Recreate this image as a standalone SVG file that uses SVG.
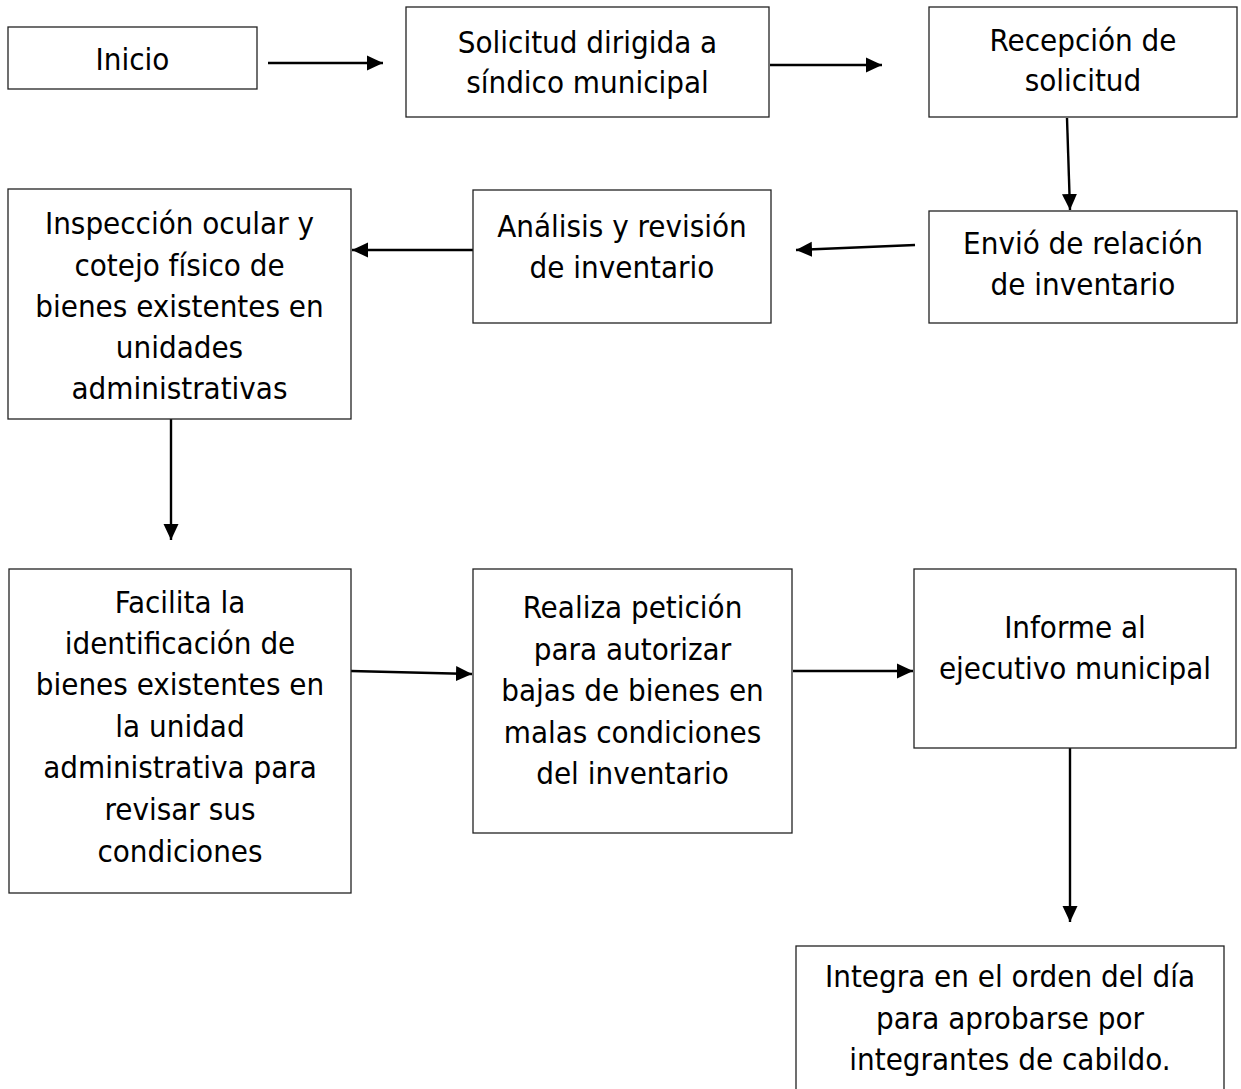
<svg xmlns="http://www.w3.org/2000/svg" width="1241" height="1089" viewBox="0 0 1241 1089">
<style>
  .box { fill: #ffffff; stroke: #222222; stroke-width: 1.3; }
  .lbl { font-family: "DejaVu Sans Condensed", "DejaVu Sans", sans-serif; font-stretch: condensed; font-size: 31px; fill: #000000; text-anchor: middle; }
  .conn { stroke: #000000; stroke-width: 2.4; fill: none; marker-end: url(#arrow); }
</style>
<defs>
  <marker id="arrow" viewBox="0 0 16 16" refX="16" refY="8" markerWidth="16" markerHeight="16" markerUnits="userSpaceOnUse" orient="auto">
    <path d="M0,0.5 L16,8 L0,15.5 z" fill="#000000"/>
  </marker>
</defs>
<rect x="0" y="0" width="1241" height="1089" fill="#ffffff"/>

<g id="connectors">
  <line class="conn" x1="268" y1="63" x2="383" y2="63"/>
  <line class="conn" x1="770" y1="65" x2="882" y2="65"/>
  <line class="conn" x1="1067" y1="118" x2="1070" y2="210"/>
  <line class="conn" x1="915" y1="245" x2="796" y2="250"/>
  <line class="conn" x1="473" y1="250" x2="352" y2="250"/>
  <line class="conn" x1="171" y1="419" x2="171" y2="540"/>
  <line class="conn" x1="351" y1="671" x2="472" y2="674"/>
  <line class="conn" x1="793" y1="671" x2="913" y2="671"/>
  <line class="conn" x1="1070" y1="748" x2="1070" y2="922"/>
</g>

<g id="inicio">
  <rect class="box" x="8" y="27" width="249" height="62"/>
  <text class="lbl" x="132.5" y="70">Inicio</text>
</g>
<g id="solicitud">
  <rect class="box" x="406" y="7" width="363" height="110"/>
  <text class="lbl" x="587.5" y="53">Solicitud dirigida a</text>
  <text class="lbl" x="587.5" y="93">síndico municipal</text>
</g>
<g id="recepcion">
  <rect class="box" x="929" y="7" width="308" height="110"/>
  <text class="lbl" x="1083" y="51">Recepción de</text>
  <text class="lbl" x="1083" y="91">solicitud</text>
</g>
<g id="envio">
  <rect class="box" x="929" y="211" width="308" height="112"/>
  <text class="lbl" x="1083" y="254">Envió de relación</text>
  <text class="lbl" x="1083" y="295">de inventario</text>
</g>
<g id="analisis">
  <rect class="box" x="473" y="190" width="298" height="133"/>
  <text class="lbl" x="622" y="237">Análisis y revisión</text>
  <text class="lbl" x="622" y="278">de inventario</text>
</g>
<g id="inspeccion">
  <rect class="box" x="8" y="189" width="343" height="230"/>
  <text class="lbl" x="179.5" y="234">Inspección ocular y</text>
  <text class="lbl" x="179.5" y="276">cotejo físico de</text>
  <text class="lbl" x="179.5" y="317">bienes existentes en</text>
  <text class="lbl" x="179.5" y="358">unidades</text>
  <text class="lbl" x="179.5" y="399">administrativas</text>
</g>
<g id="facilita">
  <rect class="box" x="9" y="569" width="342" height="324"/>
  <text class="lbl" x="180" y="613">Facilita la</text>
  <text class="lbl" x="180" y="654">identificación de</text>
  <text class="lbl" x="180" y="695">bienes existentes en</text>
  <text class="lbl" x="180" y="737">la unidad</text>
  <text class="lbl" x="180" y="778">administrativa para</text>
  <text class="lbl" x="180" y="820">revisar sus</text>
  <text class="lbl" x="180" y="862">condiciones</text>
</g>
<g id="realiza">
  <rect class="box" x="473" y="569" width="319" height="264"/>
  <text class="lbl" x="632.5" y="618">Realiza petición</text>
  <text class="lbl" x="632.5" y="660">para autorizar</text>
  <text class="lbl" x="632.5" y="701">bajas de bienes en</text>
  <text class="lbl" x="632.5" y="743">malas condiciones</text>
  <text class="lbl" x="632.5" y="784">del inventario</text>
</g>
<g id="informe">
  <rect class="box" x="914" y="569" width="322" height="179"/>
  <text class="lbl" x="1075" y="638">Informe al</text>
  <text class="lbl" x="1075" y="679">ejecutivo municipal</text>
</g>
<g id="integra">
  <rect class="box" x="796" y="946" width="428" height="160"/>
  <text class="lbl" x="1010" y="987">Integra en el orden del día</text>
  <text class="lbl" x="1010" y="1029">para aprobarse por</text>
  <text class="lbl" x="1010" y="1070">integrantes de cabildo.</text>
</g>
</svg>
